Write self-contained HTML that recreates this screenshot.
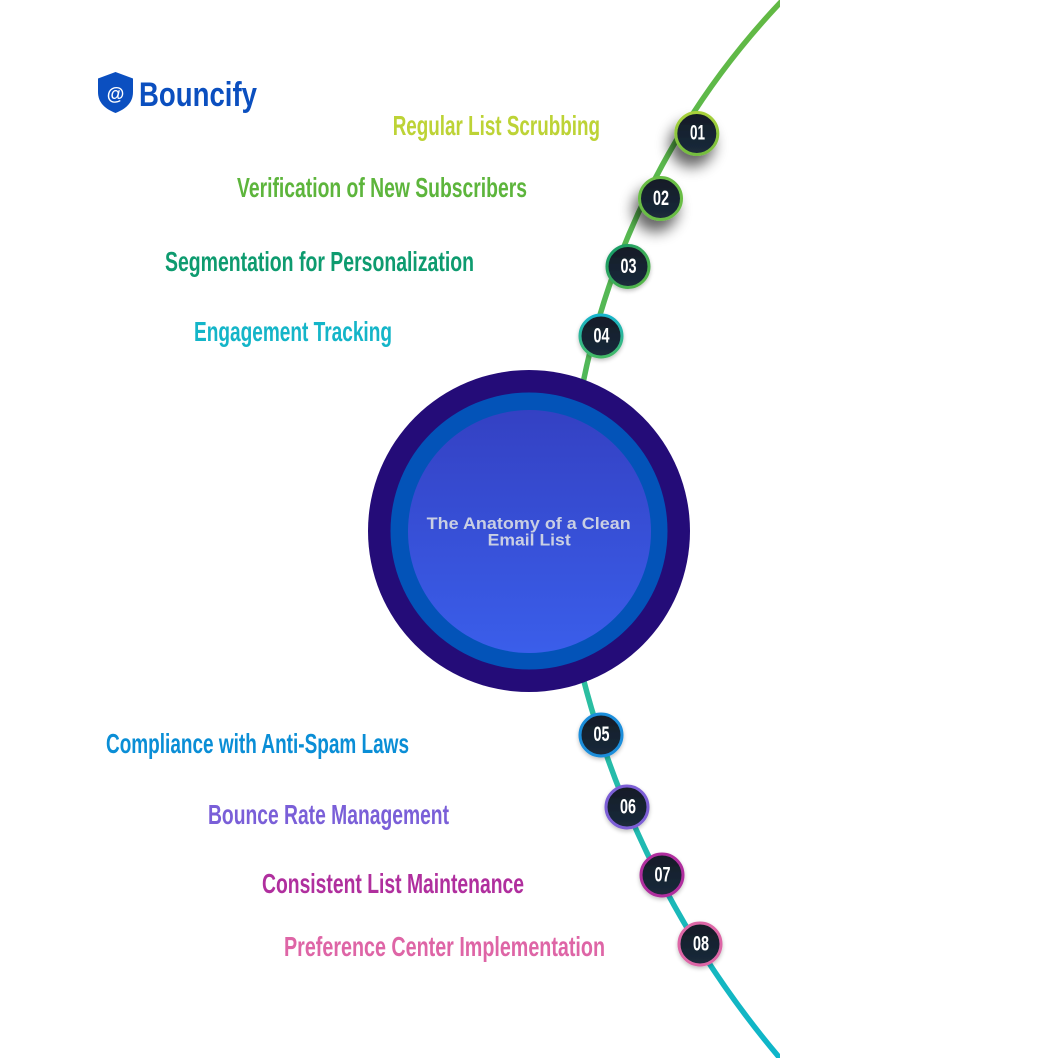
<!DOCTYPE html>
<html>
<head>
<meta charset="utf-8">
<style>
  html, body { margin: 0; padding: 0; background: #ffffff; }
  body { width: 1058px; height: 1058px; overflow: hidden; }
  svg { display: block; }
  .lbl { font-family: "Liberation Sans Narrow", "Liberation Sans", sans-serif; font-weight: bold; font-size: 28px; }
  .num { font-family: "Liberation Sans Narrow", "Liberation Sans", sans-serif; font-weight: bold; font-size: 21px; fill: #ffffff; }
</style>
</head>
<body>
<svg width="1058" height="1058" viewBox="0 0 1058 1058" xmlns="http://www.w3.org/2000/svg">
  <defs>
    <clipPath id="clipR"><rect x="0" y="0" width="780" height="1058"/></clipPath>
    <linearGradient id="gTop" x1="0" y1="0" x2="0" y2="1">
      <stop offset="0" stop-color="#63b943"/>
      <stop offset="1" stop-color="#4fb85a"/>
    </linearGradient>
    <linearGradient id="gBot" x1="0" y1="0" x2="0" y2="1">
      <stop offset="0" stop-color="#2fbf9c"/>
      <stop offset="1" stop-color="#0db5cb"/>
    </linearGradient>
    <linearGradient id="gInner" x1="0" y1="0" x2="0" y2="1">
      <stop offset="0" stop-color="#3441c3"/>
      <stop offset="1" stop-color="#3a5eea"/>
    </linearGradient>
    <linearGradient id="gNode" x1="0" y1="0" x2="0" y2="1">
      <stop offset="0" stop-color="#111b26"/>
      <stop offset="1" stop-color="#1b2b3c"/>
    </linearGradient>
    <linearGradient id="b03" x1="0" y1="0" x2="1" y2="1">
      <stop offset="0" stop-color="#119a6c"/>
      <stop offset="1" stop-color="#5fba46"/>
    </linearGradient>
    <linearGradient id="b04" x1="0" y1="0" x2="0" y2="1">
      <stop offset="0" stop-color="#17b4cc"/>
      <stop offset="1" stop-color="#44b964"/>
    </linearGradient>
    <linearGradient id="b01" x1="0" y1="0" x2="0" y2="1">
      <stop offset="0" stop-color="#a9d13a"/>
      <stop offset="1" stop-color="#74bd3f"/>
    </linearGradient>
    <filter id="sh" x="-80%" y="-80%" width="260%" height="260%">
      <feGaussianBlur in="SourceAlpha" stdDeviation="7"/>
      <feOffset dx="-5" dy="11" result="o"/>
      <feComponentTransfer><feFuncA type="linear" slope="0.6"/></feComponentTransfer>
      <feMerge><feMergeNode/><feMergeNode in="SourceGraphic"/></feMerge>
    </filter>
    <filter id="sh2" x="-60%" y="-60%" width="220%" height="220%">
      <feGaussianBlur in="SourceAlpha" stdDeviation="2"/>
      <feOffset dx="0" dy="2" result="o"/>
      <feComponentTransfer><feFuncA type="linear" slope="0.25"/></feComponentTransfer>
      <feMerge><feMergeNode/><feMergeNode in="SourceGraphic"/></feMerge>
    </filter>
  </defs>

  <!-- Curve -->
  <g clip-path="url(#clipR)" fill="none" stroke-width="5.5" stroke-linecap="butt">
    <path d="M792.5,-10 A777.5,777.5 0 0 0 579.8,400" stroke="url(#gTop)"/>
    <path d="M576.3,650 A960.8,960.8 0 0 0 790.1,1070" stroke="url(#gBot)"/>
  </g>

  <!-- Central circle -->
  <circle cx="529" cy="531" r="161" fill="#240c78"/>
  <circle cx="529" cy="531" r="138.5" fill="#0353b8"/>
  <circle cx="529.5" cy="531.5" r="121.5" fill="url(#gInner)"/>
  <text x="426.7" y="529" textLength="204" lengthAdjust="spacingAndGlyphs" font-family="Liberation Sans, sans-serif" font-weight="bold" font-size="16.5" fill="#c9cfe3">The Anatomy of a Clean</text>
  <text x="487.7" y="545.7" textLength="83" lengthAdjust="spacingAndGlyphs" font-family="Liberation Sans, sans-serif" font-weight="bold" font-size="16.5" fill="#c9cfe3">Email List</text>

  <!-- Logo -->
  <path d="M115.5,72 L133,78.5 L133,92 C133,103 125.5,109 115.5,113 C105.5,109 98,103 98,92 L98,78.5 Z" fill="#0b4fc0"/>
  <text x="115.5" y="100" text-anchor="middle" font-family="Liberation Sans, sans-serif" font-weight="bold" font-size="18" fill="#ffffff">@</text>
  <text x="139" y="106" textLength="118" lengthAdjust="spacingAndGlyphs" font-family="Liberation Sans, sans-serif" font-weight="bold" font-size="34" fill="#0b4fbf">Bouncify</text>

  <!-- Labels -->
  <text class="lbl" x="392.7" y="135" textLength="207.3" lengthAdjust="spacingAndGlyphs" fill="#bdd336">Regular List Scrubbing</text>
  <text class="lbl" x="237" y="197" textLength="290" lengthAdjust="spacingAndGlyphs" fill="#5db53c">Verification of New Subscribers</text>
  <text class="lbl" x="165" y="271" textLength="309" lengthAdjust="spacingAndGlyphs" fill="#0e9b6f">Segmentation for Personalization</text>
  <text class="lbl" x="194" y="341" textLength="198" lengthAdjust="spacingAndGlyphs" fill="#14b5c8">Engagement Tracking</text>
  <text class="lbl" x="106" y="753" textLength="303" lengthAdjust="spacingAndGlyphs" fill="#0a8ed6">Compliance with Anti-Spam Laws</text>
  <text class="lbl" x="208" y="824" textLength="241" lengthAdjust="spacingAndGlyphs" fill="#7a5fd8">Bounce Rate Management</text>
  <text class="lbl" x="262" y="893" textLength="262" lengthAdjust="spacingAndGlyphs" fill="#b02f9e">Consistent List Maintenance</text>
  <text class="lbl" x="284" y="956" textLength="321" lengthAdjust="spacingAndGlyphs" fill="#de65a6">Preference Center Implementation</text>

  <!-- Nodes -->
  <g filter="url(#sh)">
    <circle cx="696.8" cy="133.5" r="21" fill="url(#gNode)" stroke="url(#b01)" stroke-width="3"/>
  </g>
  <text class="num" x="697.5" y="139.5" text-anchor="middle" textLength="15" lengthAdjust="spacingAndGlyphs">01</text>

  <g filter="url(#sh)">
    <circle cx="660.5" cy="198.5" r="21" fill="url(#gNode)" stroke="#69bd44" stroke-width="3"/>
  </g>
  <text class="num" x="661" y="205" text-anchor="middle" textLength="16" lengthAdjust="spacingAndGlyphs">02</text>

  <g filter="url(#sh2)">
    <circle cx="628" cy="266.5" r="21" fill="url(#gNode)" stroke="url(#b03)" stroke-width="3"/>
  </g>
  <text class="num" x="628.5" y="273" text-anchor="middle" textLength="16" lengthAdjust="spacingAndGlyphs">03</text>

  <g filter="url(#sh2)">
    <circle cx="601" cy="336" r="21" fill="url(#gNode)" stroke="url(#b04)" stroke-width="3"/>
  </g>
  <text class="num" x="601.5" y="342.5" text-anchor="middle" textLength="16" lengthAdjust="spacingAndGlyphs">04</text>

  <g filter="url(#sh2)">
    <circle cx="601" cy="735" r="21" fill="url(#gNode)" stroke="#1a8edb" stroke-width="3"/>
  </g>
  <text class="num" x="601.5" y="741" text-anchor="middle" textLength="16" lengthAdjust="spacingAndGlyphs">05</text>

  <g filter="url(#sh2)">
    <circle cx="627" cy="807" r="21" fill="url(#gNode)" stroke="#7d5fd6" stroke-width="3"/>
  </g>
  <text class="num" x="628" y="813.5" text-anchor="middle" textLength="16" lengthAdjust="spacingAndGlyphs">06</text>

  <g filter="url(#sh2)">
    <circle cx="662" cy="875" r="21" fill="url(#gNode)" stroke="#b02f9e" stroke-width="3"/>
  </g>
  <text class="num" x="662.5" y="881.5" text-anchor="middle" textLength="16" lengthAdjust="spacingAndGlyphs">07</text>

  <g filter="url(#sh2)">
    <circle cx="700" cy="944" r="21" fill="url(#gNode)" stroke="#dd66a6" stroke-width="3"/>
  </g>
  <text class="num" x="701" y="950.5" text-anchor="middle" textLength="16" lengthAdjust="spacingAndGlyphs">08</text>
</svg>
</body>
</html>
